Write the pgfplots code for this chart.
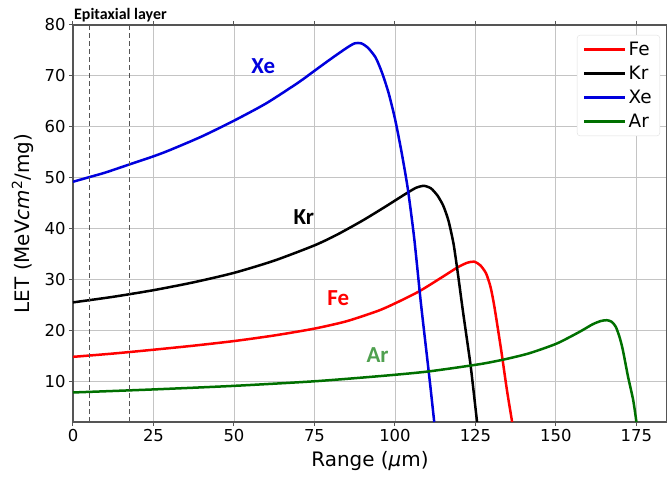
\documentclass[border=0pt]{standalone}
\usepackage{pgfplots}
\pgfplotsset{compat=1.18}
\usepackage{fontspec}
\setmainfont{DejaVu Sans}
\newfontfamily\calib{Carlito}
\definecolor{xeblue}{HTML}{0000DD}
\definecolor{argreen}{HTML}{007000}
\definecolor{arlabel}{HTML}{4FA04F}
\definecolor{gridc}{HTML}{C4C4C4}
\definecolor{spine}{HTML}{555555}
\begin{document}
\begin{tikzpicture}
\begin{axis}[
  scale only axis,
  width=594bp, height=397bp,
  xmin=0, xmax=184.5, ymin=2, ymax=80,
  clip mode=individual,
  xtick={0,25,50,75,100,125,150,175},
  ytick={10,20,30,40,50,60,70,80},
  grid=major,
  major grid style={gridc, line width=0.9bp},
  axis line style={spine, line width=1.2bp},
  tick style={spine, line width=1bp},
  tick align=outside,
  major tick length=4bp,
  tick label style={font=\fontsize{16.5}{18}\selectfont},
  /pgf/number format/assume math mode=true,
  xlabel={Range (\textit{μ}m)},
  ylabel={LET (MeV\textit{cm}\textsuperscript{2}/mg)},
  label style={font=\fontsize{20}{22}\selectfont},
  xlabel style={yshift=-3bp},
  ylabel style={yshift=4bp},
  legend style={at={(1,1)}, anchor=north east, xshift=-7bp, yshift=-10bp,
    draw=gray!25, rounded corners=3pt, font=\fontsize{18.5}{20}\selectfont,
    row sep=5bp, inner xsep=6bp, inner ysep=5bp},
  legend cell align=left,
  legend image code/.code={\draw[#1] (0bp,0bp) -- (41bp,0bp);},
  every axis plot/.append style={line width=2.5bp, line join=round, smooth, tension=0.4},
]
\addplot[red] coordinates {(0,14.8) (12.5,15.45) (25,16.2) (37.5,17.0) (50,17.9) (62.5,19.0) (75,20.35) (85,21.8) (95,23.9) (101,25.6) (107.6,27.7) (114,30.2) (119.5,32.4) (122.5,33.3) (124.6,33.5) (126.5,32.8) (128.3,31.2) (129.7,28.5) (130.9,24.6) (133,16.1) (134.8,8.2) (136.4,2)};
\addlegendentry{Fe}
\addplot[black] coordinates {(0,25.5) (12.5,26.6) (25,27.9) (37.5,29.45) (50,31.3) (62.5,33.7) (75,36.7) (82,38.8) (90,41.6) (97,44.3) (103,46.7) (106.5,48.0) (109,48.4) (111.2,47.9) (113.2,46.5) (115,44.5) (116.6,41.6) (118.2,37.0) (119.6,30.9) (121,24.3) (122.3,18.5) (123.6,12.6) (125.5,2)};
\addlegendentry{Kr}
\addplot[xeblue] coordinates {(0,49.2) (5,50.1) (10,51.0) (17.5,52.6) (25,54.2) (30,55.4) (40,58.1) (50,61.2) (60,64.6) (70,68.7) (75,71.0) (80,73.3) (85,75.5) (87.5,76.4) (89.5,76.4) (91.5,75.6) (94,73.6) (96,70.6) (98,66.7) (100,61.6) (102,55.2) (104,47.8) (106,38.0) (108,25.7) (110,14.6) (111,9.0) (112.2,2)};
\addlegendentry{Xe}
\addplot[argreen] coordinates {(0,7.8) (25,8.4) (50,9.1) (75,10.0) (95,11.0) (110,11.9) (126.2,13.35) (134,14.3) (141.7,15.5) (150.2,17.4) (157.3,19.7) (161.4,21.2) (164,21.85) (165.8,22.0) (167.3,21.7) (168.6,20.7) (169.8,18.6) (170.8,16.1) (172.4,10.9) (174,6.3) (175,2)};
\addlegendentry{Ar}
\draw[spine, line width=1.1bp, dash pattern=on 5bp off 3bp] (axis cs:5,2) -- (axis cs:5,80);
\draw[spine, line width=1.1bp, dash pattern=on 5bp off 3bp] (axis cs:17.5,2) -- (axis cs:17.5,80);
\node[xeblue, font=\calib\bfseries\fontsize{23}{23}\selectfont] at (axis cs:59.1,71.9) {Xe};
\node[black, font=\calib\bfseries\fontsize{23}{23}\selectfont] at (axis cs:71.7,42.3) {Kr};
\node[red, font=\calib\bfseries\fontsize{23}{23}\selectfont] at (axis cs:82.4,26.3) {Fe};
\node[arlabel, font=\calib\bfseries\fontsize{23}{23}\selectfont] at (axis cs:94.6,15.1) {Ar};
\node[anchor=base west, inner sep=0pt, font=\calib\bfseries\fontsize{16}{16}\selectfont] at (axis cs:0.3,80) [yshift=5bp] {Epitaxial layer};
\end{axis}
\pgfresetboundingbox
\path[use as bounding box] (-73bp,-55bp) rectangle (594bp,422bp);
\end{tikzpicture}
\end{document}
